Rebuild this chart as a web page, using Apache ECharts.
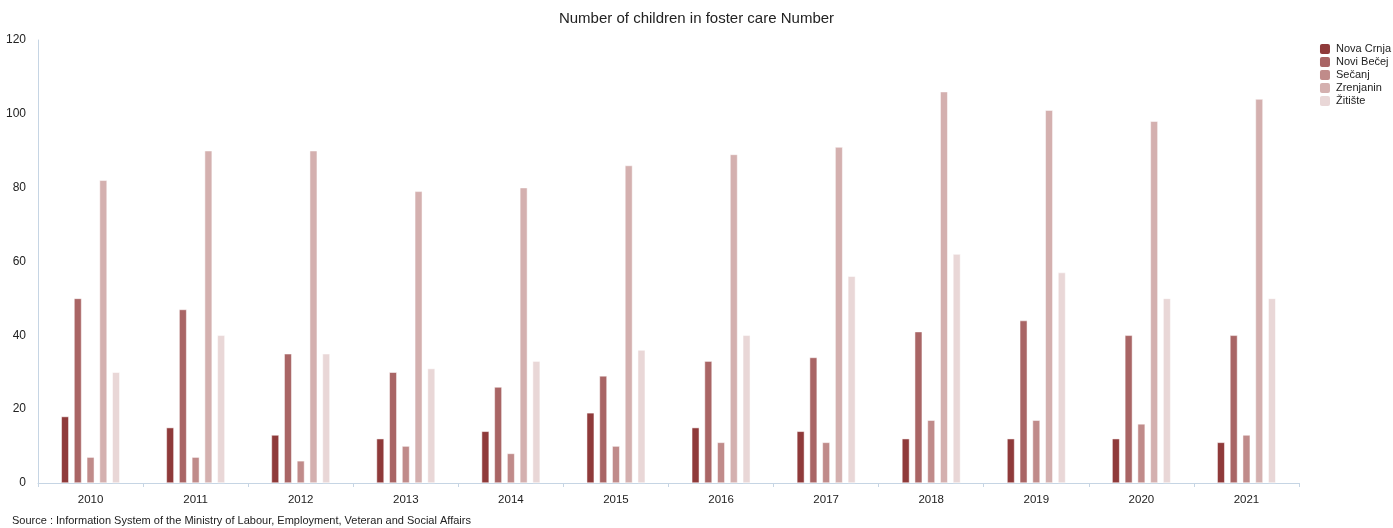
<!DOCTYPE html>
<html>
<head>
<meta charset="utf-8">
<script src="https://cdn.jsdelivr.net/npm/echarts@6/dist/echarts.min.js"></script>
<style>
html,body{margin:0;padding:0;background:#fff;}
#c{width:1393px;height:528px;}
</style>
</head>
<body>
<div id="c"></div>
<script>
const years = ['2010','2011','2012','2013','2014','2015','2016','2017','2018','2019','2020','2021'];
const novaCrnja = [18,15,13,12,14,19,15,14,12,12,12,11];
const noviBecej = [50,47,35,30,26,29,33,34,41,44,40,40];
const secanj = [7,7,6,10,8,10,11,11,17,17,16,13];
const zrenjanin = [82,90,90,79,80,86,89,91,106,101,98,104];
const zitiste = [30,40,35,31,33,36,40,56,62,57,50,50];
const seriesNames = ['Nova Crnja','Novi Bečej','Sečanj','Zrenjanin','Žitište'];
const seriesData = [novaCrnja, noviBecej, secanj, zrenjanin, zitiste];
const colors = ['#8f3a3a','#a96565','#c08b8a','#d4b0af','#e9d7d7'];

const chart = echarts.init(document.getElementById('c'));
chart.setOption({
  animation:false,
  color: colors,
  textStyle:{fontFamily:'Liberation Sans, Arial, sans-serif'},
  title:{text:'Number of children in foster care Number', left:'center', top:6,
    textStyle:{fontSize:15, fontWeight:'normal', color:'#222'}},
  legend:{orient:'vertical', right:2, top:42, padding:0, itemWidth:12, itemHeight:12, itemGap:-1,
    icon:'roundRect', textStyle:{fontSize:11, color:'#222'},
    data: seriesNames},
  grid:{left:38, right:94, top:40, bottom:45},
  xAxis:{type:'category', data:years,
    axisLine:{lineStyle:{color:'#c6d5e4'}},
    axisTick:{show:true, length:4, lineStyle:{color:'#c6d5e4'}},
    axisLabel:{fontSize:11.5, color:'#222', margin:11}},
  yAxis:{type:'value', min:0, max:120, interval:20,
    axisLine:{show:true, lineStyle:{color:'#c6d5e4'}},
    axisTick:{show:false}, splitLine:{show:false},
    axisLabel:{fontSize:12, color:'#222', margin:12}},
  graphic:[{type:'text', left:12, top:515,
    style:{text:'Source : Information System of the Ministry of Labour, Employment, Veteran and Social Affairs',
      fontSize:11, fill:'#222', fontFamily:'Liberation Sans, Arial, sans-serif'}}],
  series: seriesNames.map((n,i)=>({name:n, type:'bar', data:seriesData[i], barWidth:7.5, barGap:'70%',
    itemStyle:{borderColor:'#fff', borderWidth:0.5}}))
});
</script>
</body>
</html>
